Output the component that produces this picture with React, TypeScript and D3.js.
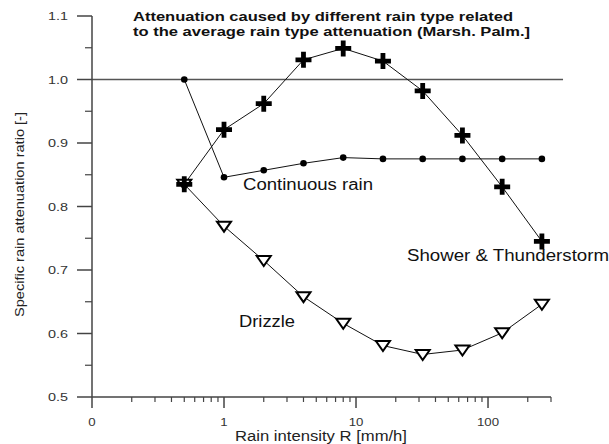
import { useEffect, useRef } from "react";
import * as d3 from "d3";

const rainRates = [0.5, 1, 2, 4, 8, 16, 32, 64, 128, 256];
const continuousRain = [1.0, 0.846, 0.857, 0.868, 0.877, 0.875, 0.875, 0.875, 0.875, 0.875];
const showerThunder = [0.835, 0.921, 0.962, 1.031, 1.049, 1.029, 0.982, 0.912, 0.831, 0.745];
const drizzle = [0.835, 0.769, 0.715, 0.658, 0.616, 0.581, 0.567, 0.574, 0.601, 0.646];

const xTickLabels = ["0", "1", "10", "100"];
const xTickValues = [0.1, 1, 10, 100];
const yTickValues = [0.5, 0.6, 0.7, 0.8, 0.9, 1.0, 1.1];

const FONT = "Arial, 'Liberation Sans', sans-serif";

// the picture's glyphs are wider than plain Arial, so stretch each text a bit
function widen(sel: d3.Selection<SVGTextElement, any, any, any>, factor: number) {
  sel.each(function () {
    const w = this.getComputedTextLength();
    d3.select(this).attr("textLength", w * factor).attr("lengthAdjust", "spacingAndGlyphs");
  });
}

export default function App() {
  const svgRef = useRef<SVGSVGElement>(null);

  useEffect(() => {
    if (!svgRef.current) return;
    const svg = d3.select(svgRef.current);
    svg.selectAll("*").remove();

    const x = d3.scaleLog().domain([0.1, 300]).range([92, 551]);
    const y = d3.scaleLinear().domain([0.5, 1.1]).range([397, 16]);

    const axisColor = "#444";

    // reference line at 1.0
    svg
      .append("line")
      .attr("x1", x(0.1))
      .attr("x2", x(370))
      .attr("y1", y(1.0))
      .attr("y2", y(1.0))
      .attr("stroke", "#555")
      .attr("stroke-width", 1.3);

    // y axis
    const yAxis = svg.append("g");
    yAxis
      .append("line")
      .attr("x1", 92)
      .attr("x2", 92)
      .attr("y1", y(1.1))
      .attr("y2", 408)
      .attr("stroke", axisColor)
      .attr("stroke-width", 1.5);
    yAxis
      .selectAll("line.major")
      .data(yTickValues)
      .join("line")
      .attr("class", "major")
      .attr("x1", 77)
      .attr("x2", 92)
      .attr("y1", (d) => y(d))
      .attr("y2", (d) => y(d))
      .attr("stroke", axisColor)
      .attr("stroke-width", 1.5);
    yAxis
      .selectAll("line.minor")
      .data(d3.range(0.55, 1.1, 0.1))
      .join("line")
      .attr("class", "minor")
      .attr("x1", 85)
      .attr("x2", 92)
      .attr("y1", (d) => y(d))
      .attr("y2", (d) => y(d))
      .attr("stroke", axisColor)
      .attr("stroke-width", 1.2);
    const yLabels = yAxis
      .selectAll<SVGTextElement, number>("text")
      .data(yTickValues)
      .join("text")
      .attr("x", 68)
      .attr("y", (d) => y(d))
      .attr("dy", "0.35em")
      .attr("text-anchor", "end")
      .attr("font-family", FONT)
      .attr("font-size", 11.5)
      .attr("fill", "#333")
      .text((d) => d3.format(".1f")(d));
    widen(yLabels, 1.25);

    // x axis
    const xAxis = svg.append("g");
    xAxis
      .append("line")
      .attr("x1", 92)
      .attr("x2", x(300))
      .attr("y1", 397)
      .attr("y2", 397)
      .attr("stroke", axisColor)
      .attr("stroke-width", 1.5);
    const minor: number[] = [];
    [0.1, 1, 10, 100].forEach((p) => {
      for (let k = 2; k <= 9; k++) if (p * k <= 300) minor.push(p * k);
    });
    xAxis
      .selectAll("line.minor")
      .data(minor)
      .join("line")
      .attr("class", "minor")
      .attr("x1", (d) => x(d))
      .attr("x2", (d) => x(d))
      .attr("y1", 397)
      .attr("y2", 402)
      .attr("stroke", axisColor)
      .attr("stroke-width", 1.2);
    xAxis
      .selectAll("line.major")
      .data(xTickValues.slice(1))
      .join("line")
      .attr("class", "major")
      .attr("x1", (d) => x(d))
      .attr("x2", (d) => x(d))
      .attr("y1", 397)
      .attr("y2", 408)
      .attr("stroke", axisColor)
      .attr("stroke-width", 1.5);
    const xLabels = xAxis
      .selectAll<SVGTextElement, number>("text")
      .data(xTickValues)
      .join("text")
      .attr("x", (d) => x(d))
      .attr("y", 422)
      .attr("dy", "0.35em")
      .attr("text-anchor", "middle")
      .attr("font-family", FONT)
      .attr("font-size", 11.5)
      .attr("fill", "#333")
      .text((_, i) => xTickLabels[i]);
    widen(xLabels, 1.15);

    // axis titles
    const xTitle = svg
      .append("text")
      .attr("x", 321)
      .attr("y", 441)
      .attr("text-anchor", "middle")
      .attr("font-family", FONT)
      .attr("font-size", 14)
      .attr("fill", "#222")
      .text("Rain intensity R [mm/h]");
    widen(xTitle, 172 / (xTitle.node() as SVGTextElement).getComputedTextLength());
    const yTitle = svg
      .append("text")
      .attr("transform", "translate(24,214.5) rotate(-90)")
      .attr("text-anchor", "middle")
      .attr("font-family", FONT)
      .attr("font-size", 12.5)
      .attr("fill", "#222")
      .text("Specific rain attenuation ratio [-]");
    widen(yTitle, 205 / (yTitle.node() as SVGTextElement).getComputedTextLength());

    // title
    const titleLines = [
      { t: "Attenuation caused by different rain type related", y: 21, w: 380 },
      { t: "to the average rain type attenuation (Marsh. Palm.]", y: 35.5, w: 397 },
    ];
    titleLines.forEach((l) => {
      const el = svg
        .append("text")
        .attr("x", 133)
        .attr("y", l.y)
        .attr("font-family", FONT)
        .attr("font-size", 12.5)
        .attr("font-weight", "bold")
        .attr("fill", "#111")
        .text(l.t);
      widen(el, l.w / (el.node() as SVGTextElement).getComputedTextLength());
    });

    const line = d3
      .line<[number, number]>()
      .x((d) => x(d[0]))
      .y((d) => y(d[1]));

    const series = [continuousRain, showerThunder, drizzle];
    series.forEach((vals) => {
      svg
        .append("path")
        .attr("d", line(rainRates.map((r, i) => [r, vals[i]] as [number, number])))
        .attr("fill", "none")
        .attr("stroke", "#111")
        .attr("stroke-width", 1);
    });

    // continuous rain: dots
    svg
      .append("g")
      .selectAll("circle")
      .data(rainRates)
      .join("circle")
      .attr("cx", (d) => x(d))
      .attr("cy", (_, i) => y(continuousRain[i]))
      .attr("r", 3.3)
      .attr("fill", "#000");

    // drizzle: open, flat, down-pointing triangles
    const tri = "M-7,-4.5L7,-4.5L0,5.5Z";
    svg
      .append("g")
      .selectAll("path")
      .data(rainRates)
      .join("path")
      .attr("d", tri)
      .attr("transform", (d, i) => `translate(${x(d)},${y(drizzle[i])})`)
      .attr("fill", "#fff")
      .attr("stroke", "#000")
      .attr("stroke-width", 2);

    // shower: bold plus
    const a = 8;
    const t = 2.4;
    const plus = `M${-t},${-a}H${t}V${-t}H${a}V${t}H${t}V${a}H${-t}V${t}H${-a}V${-t}H${-t}Z`;
    svg
      .append("g")
      .selectAll("path")
      .data(rainRates)
      .join("path")
      .attr("d", plus)
      .attr("transform", (d, i) => `translate(${x(d)},${y(showerThunder[i])})`)
      .attr("fill", "#000");

    // series labels
    const labels = [
      { t: "Continuous rain", x: 243, y: 190, w: 130 },
      { t: "Shower & Thunderstorm", x: 407, y: 261, w: 202 },
      { t: "Drizzle", x: 239, y: 327, w: 56 },
    ];
    labels.forEach((l) => {
      const el = svg
        .append("text")
        .attr("x", l.x)
        .attr("y", l.y)
        .attr("font-family", FONT)
        .attr("font-size", 16)
        .attr("fill", "#111")
        .text(l.t);
      widen(el, l.w / (el.node() as SVGTextElement).getComputedTextLength());
    });
  }, []);

  return (
    <svg
      ref={svgRef}
      width={609}
      height={444}
      style={{ position: "absolute", left: 0, top: 0, background: "#fff" }}
    />
  );
}
